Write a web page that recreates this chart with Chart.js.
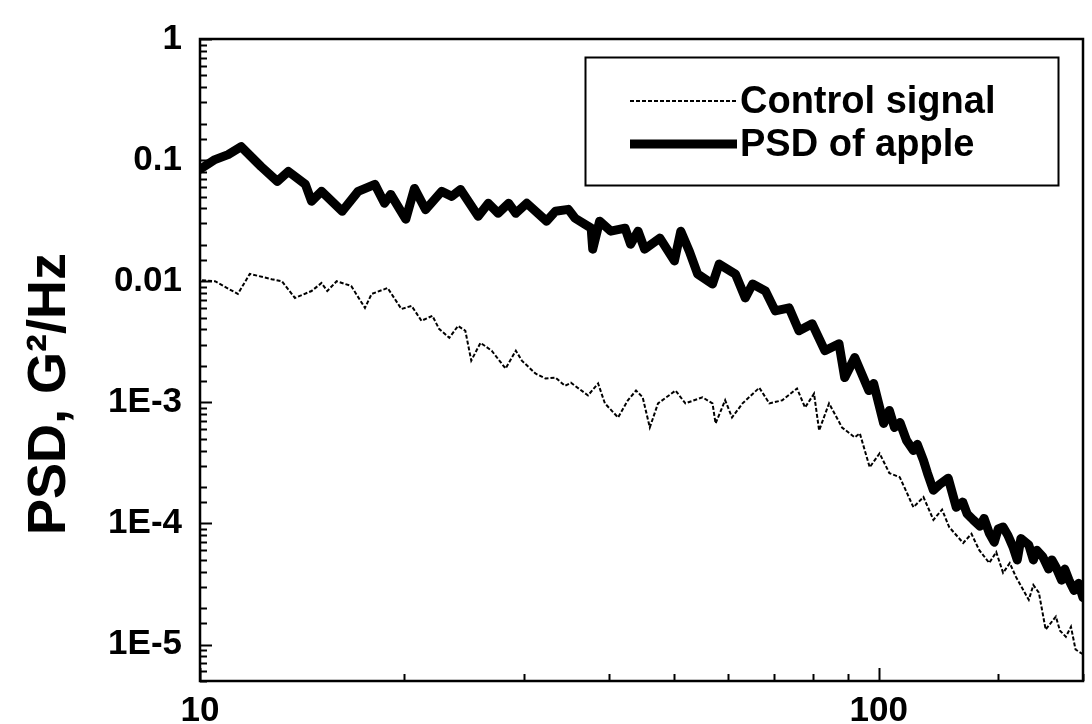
<!DOCTYPE html>
<html>
<head>
<meta charset="utf-8">
<script src="https://cdn.jsdelivr.net/npm/chart.js@4.4.1/dist/chart.umd.min.js"></script>
<style>
  html, body { margin: 0; padding: 0; background: #fff; }
  #wrap { width: 1092px; height: 724px; }
</style>
</head>
<body>
<div id="wrap"><canvas id="psd"></canvas></div>
<script>
// values (Hz, G^2/Hz)
const freqControl = [10.07, 10.52, 11.37, 11.84, 12.75, 13.2, 13.8, 14.6, 15.1, 15.4, 15.9, 16.7, 17.5, 17.9, 18.9, 19.8,
  20.5, 21.2, 22.0, 22.5, 23.3, 24.0, 24.6, 25.1, 25.9, 26.9, 28.2, 29.2, 29.8, 31.2, 32.3, 33.4, 34.5, 35.2, 37.3, 38.6,
  39.5, 41.3, 42.7, 43.9, 44.9, 46.0, 47.3, 50.2, 51.9, 55.0, 56.9, 57.5, 59.4, 60.8, 63.0, 66.7, 69.0, 72.1, 75.8, 77.9,
  80.3, 81.7, 84.5, 88.3, 92.2, 93.8, 97.0, 100.3, 103.7, 107.4, 110, 112.5, 116.4, 120.4, 124, 127.0, 133.2, 137, 140.6,
  145.5, 149, 152.5, 156, 159.3, 166.4, 169, 172.2, 176.2, 182.4, 185, 188.7, 192, 195.0, 200];
const psdControl = [0.0102, 0.0100, 0.00785, 0.0115, 0.0104, 0.0100, 0.00728, 0.0083, 0.00966, 0.0083, 0.0100, 0.00914,
  0.00602, 0.00785, 0.00879, 0.0059, 0.00625, 0.00471, 0.00518, 0.00405, 0.00341, 0.00428, 0.0039, 0.00221, 0.0031,
  0.00267, 0.0019, 0.00267, 0.00221, 0.00173, 0.00157, 0.0016, 0.00137, 0.00145, 0.00114, 0.00143, 0.00098, 0.00075,
  0.00104, 0.00125, 0.0011, 0.00062, 0.00098, 0.00125, 0.00098, 0.0011, 0.00098, 0.00067, 0.00104, 0.00075, 0.00098,
  0.00132, 0.00098, 0.00104, 0.0013, 0.000906, 0.00118, 0.000586, 0.00098, 0.00062, 0.000514, 0.000554, 0.000291,
  0.000379, 0.00026, 0.000241, 0.00018, 0.000136, 0.000165, 0.000107, 0.00013, 0.0000934, 0.000069, 0.000082, 0.0000604,
  0.0000472, 0.000058, 0.0000391, 0.000047, 0.0000362, 0.0000234, 0.000031, 0.0000268, 0.0000133, 0.000017, 0.000013,
  0.0000116, 0.000014, 0.0000091, 0.0000083];

const freqApple = [10, 10.52, 11.0, 11.5, 12.3, 13.0, 13.5, 14.3, 14.6, 15.1, 16.2, 17.1, 18.1, 18.7, 19.1, 20.1, 20.7,
  21.5, 22.7, 23.5, 24.2, 25.7, 26.6, 27.5, 28.5, 29.2, 30.3, 32.4, 33.4, 34.9, 35.7, 37.7, 37.9, 38.8, 40.3, 42.3, 43.1,
  44.2, 45.2, 47.6, 50.0, 51.1, 52.6, 54.1, 56.9, 58.2, 61.5, 63.6, 65.2, 68.1, 70.4, 73.8, 76.3, 79.8, 83.3, 87.4, 89.1,
  92.2, 96.7, 98.3, 101.7, 103.7, 105.5, 107.5, 109.9, 112.5, 114, 116.4, 118, 120.4, 123, 126.6, 130.1, 133, 135, 137.8,
  141, 143, 145.5, 148, 150, 152.5, 155, 157.7, 160, 162, 166.4, 169, 171, 174.5, 178, 180, 182.4, 186, 188, 190.6, 194,
  197, 200];
const psdApple = [0.084, 0.101, 0.111, 0.129, 0.0886, 0.0667, 0.0806, 0.063, 0.0457, 0.0552, 0.0378, 0.0552, 0.063, 0.044,
  0.0521, 0.0325, 0.0584, 0.039, 0.0552, 0.0502, 0.0573, 0.0344, 0.044, 0.0364, 0.044, 0.0364, 0.044, 0.0313, 0.0378,
  0.0392, 0.0331, 0.0274, 0.0184, 0.0313, 0.0259, 0.0274, 0.0202, 0.0259, 0.0184, 0.0227, 0.0147, 0.0259, 0.0177, 0.01146,
  0.00948, 0.01385, 0.01146, 0.00728, 0.00948, 0.0083, 0.00569, 0.00602, 0.0039, 0.00445, 0.00267, 0.00305, 0.0016,
  0.00234, 0.00125, 0.00143, 0.00067, 0.000857, 0.00062, 0.00068, 0.000485, 0.0004, 0.00045, 0.000332, 0.00026, 0.000188,
  0.00021, 0.000236, 0.000136, 0.00015, 0.00012, 0.000107, 0.000095, 0.00011, 0.0000834, 0.00007, 0.00009, 0.0000934,
  0.00008, 0.000064, 0.00005, 0.000075, 0.0000664, 0.00005, 0.00006, 0.000053, 0.000042, 0.00005, 0.0000438, 0.000034,
  0.000042, 0.0000343, 0.000028, 0.000032, 0.0000244];

const seriesNames = ['Control signal', 'PSD of apple'];
const yDecadeLabels = ['1', '0.1', '0.01', '1E-3', '1E-4', '1E-5'];
const xDecadeLabels = { 1: '10', 2: '100' };

const FONT = 'Liberation Sans, Arial, sans-serif';

const toPoints = (xs, ys) => xs.map((x, i) => ({ x, y: ys[i] }));
const isDecade = (v) => Math.abs(Math.log10(v) - Math.round(Math.log10(v))) < 1e-6;

// inward ticks, full frame, y title and the boxed legend
const decorPlugin = {
  id: 'decor',
  afterDraw(chart) {
    const { ctx, chartArea: a, scales } = chart;
    ctx.save();
    ctx.strokeStyle = '#000';
    ctx.lineWidth = 2;
    scales.y.ticks.forEach((t) => {
      const py = Math.round(scales.y.getPixelForValue(t.value)) + 0.5;
      const len = isDecade(t.value) ? 12 : 7;
      ctx.beginPath();
      ctx.moveTo(a.left, py);
      ctx.lineTo(a.left + len, py);
      ctx.stroke();
    });
    scales.x.ticks.forEach((t) => {
      const px = Math.round(scales.x.getPixelForValue(t.value)) + 0.5;
      const len = isDecade(t.value) ? 13 : 7;
      ctx.beginPath();
      ctx.moveTo(px, a.bottom);
      ctx.lineTo(px, a.bottom - len);
      ctx.stroke();
    });
    ctx.lineWidth = 2.5;
    ctx.strokeRect(a.left, a.top, a.right - a.left, a.bottom - a.top);

    // y axis title
    ctx.save();
    ctx.translate(50, 394);
    ctx.rotate(-Math.PI / 2);
    ctx.fillStyle = '#000';
    ctx.font = 'bold 54px ' + FONT;
    ctx.textAlign = 'center';
    ctx.textBaseline = 'middle';
    ctx.fillText('PSD, G\u00B2/Hz', 0, 0);
    ctx.restore();

    // legend
    ctx.lineWidth = 2;
    ctx.strokeRect(585.5, 57.5, 473, 128);
    ctx.font = 'bold 38px ' + FONT;
    ctx.textBaseline = 'middle';
    ctx.textAlign = 'left';
    ctx.fillStyle = '#000';
    const rows = [101, 144];
    chart.data.datasets.forEach((ds, i) => {
      const y = rows[i];
      ctx.save();
      ctx.strokeStyle = ds.borderColor;
      ctx.lineWidth = ds.borderWidth;
      ctx.setLineDash(ds.borderDash || []);
      ctx.lineCap = 'butt';
      ctx.beginPath();
      ctx.moveTo(630, y);
      ctx.lineTo(737, y);
      ctx.stroke();
      ctx.restore();
      ctx.fillText(ds.label, 740, y + 2);
    });
    ctx.restore();
  },
};

new Chart(document.getElementById('psd'), {
  type: 'line',
  data: {
    datasets: [
      {
        label: seriesNames[0],
        data: toPoints(freqControl, psdControl),
        borderColor: '#000',
        borderWidth: 2,
        borderDash: [4, 2],
        pointRadius: 0,
        tension: 0,
        order: 1,
      },
      {
        label: seriesNames[1],
        data: toPoints(freqApple, psdApple),
        borderColor: '#000',
        borderWidth: 9,
        borderJoinStyle: 'round',
        borderCapStyle: 'round',
        pointRadius: 0,
        tension: 0,
        order: 0,
      },
    ],
  },
  options: {
    responsive: true,
    maintainAspectRatio: false,
    animation: false,
    layout: { autoPadding: false, padding: { left: 0, right: 5, top: 37, bottom: 0 } },
    plugins: { legend: { display: false }, tooltip: { enabled: false } },
    scales: {
      x: {
        type: 'logarithmic',
        min: 10,
        max: 200,
        grid: { display: false, drawTicks: false },
        border: { display: false },
        afterFit: (s) => { s.height = 43; },
        ticks: {
          autoSkip: false,
          maxRotation: 0,
          padding: 9,
          color: '#000',
          font: { family: FONT, size: 35, weight: 'bold' },
          callback: (v) => (isDecade(v) ? xDecadeLabels[Math.round(Math.log10(v))] || '' : ''),
        },
      },
      y: {
        type: 'logarithmic',
        min: 5e-6,
        max: 1,
        grid: { display: false, drawTicks: false },
        border: { display: false },
        afterFit: (s) => { s.width = 200; },
        ticks: {
          autoSkip: false,
          padding: 18,
          color: '#000',
          font: { family: FONT, size: 35, weight: 'bold' },
          callback: (v) => (isDecade(v) ? yDecadeLabels[-Math.round(Math.log10(v))] || '' : ''),
        },
      },
    },
  },
  plugins: [decorPlugin],
});
</script>
</body>
</html>
